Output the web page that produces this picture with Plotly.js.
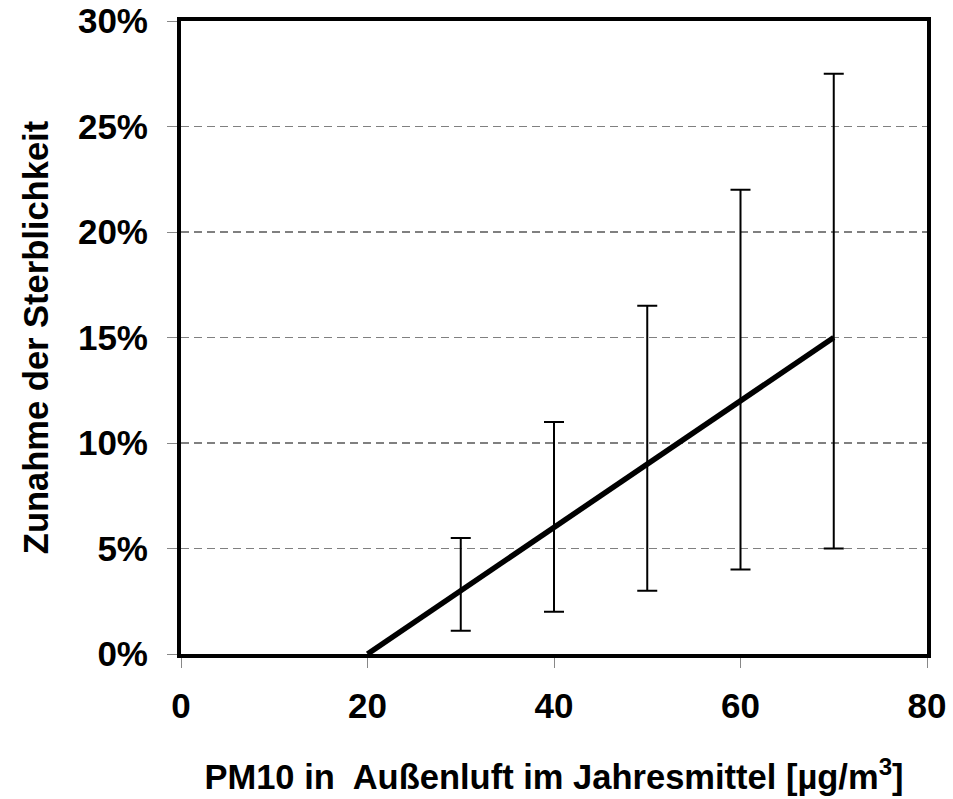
<!DOCTYPE html>
<html><head><meta charset="utf-8">
<script src="https://cdn.plot.ly/plotly-3.0.1.min.js"></script>
<style>html,body{margin:0;padding:0;background:#fff}</style>
</head><body><div id="chart" style="width:953px;height:799px"></div>
<script>
const lineX = [20, 30, 40, 50, 60, 70];
const lineY = [0, 3, 6, 9, 12, 15];
const errX = [30, 40, 50, 60, 70];
const errCenter = [3, 6, 9, 12, 15];
const errUpper = [5.5, 11, 16.5, 22, 27.5];
const errLower = [1.1, 2, 3, 4, 5];
const yTicks = [0, 5, 10, 15, 20, 25, 30];
const yTickText = ['0%', '5%', '10%', '15%', '20%', '25%', '30%'];
const xTicks = [0, 20, 40, 60, 80];

const plus = errUpper.map((u, i) => u - errCenter[i]);
const minus = errLower.map((l, i) => errCenter[i] - l);

const fam = 'Liberation Sans, Arial, sans-serif';
const boldFont = (s) => ({family: fam, size: s, color: '#000', weight: 'bold'});

const traces = [
  {x: errX, y: errCenter, mode: 'markers', type: 'scatter',
   marker: {size: 1, color: 'rgba(0,0,0,0)'},
   error_y: {type: 'data', symmetric: false, array: plus, arrayminus: minus,
             color: '#000', thickness: 2, width: 10},
   hoverinfo: 'skip', showlegend: false},
  {x: lineX, y: lineY, mode: 'lines', type: 'scatter',
   line: {color: '#000', width: 5.5}, showlegend: false}
];

const layout = {
  width: 953, height: 799,
  margin: {l: 181, r: 26, t: 21, b: 145},
  paper_bgcolor: '#fff', plot_bgcolor: '#fff',
  font: {family: fam, size: 34, color: '#000'},
  showlegend: false,
  xaxis: {range: [0, 80], tickvals: xTicks, ticktext: xTicks.map(String),
          showgrid: false, zeroline: false,
          showline: true, linecolor: '#000', linewidth: 4, mirror: true,
          ticks: 'outside', ticklen: 10, tickwidth: 1, tickcolor: '#888',
          ticklabelstandoff: 8,
          tickfont: boldFont(35),
          title: {text: 'PM10 in  Außenluft im Jahresmittel [µg/m<sup>3</sup>]',
                  font: boldFont(34.5), standoff: 42}},
  yaxis: {range: [0, 30], tickvals: yTicks, ticktext: yTickText,
          showgrid: true, gridcolor: '#808080', gridwidth: 1.3, griddash: '8px,5px',
          zeroline: false,
          showline: true, linecolor: '#000', linewidth: 4, mirror: true,
          ticks: 'outside', ticklen: 10, tickwidth: 1, tickcolor: '#888',
          ticklabelstandoff: 12,
          tickfont: boldFont(35),
          title: {text: 'Zunahme der Sterblichkeit',
                  font: boldFont(34.5), standoff: 20}}
};

Plotly.newPlot('chart', traces, layout, {displayModeBar: false, staticPlot: true});
</script></body></html>
